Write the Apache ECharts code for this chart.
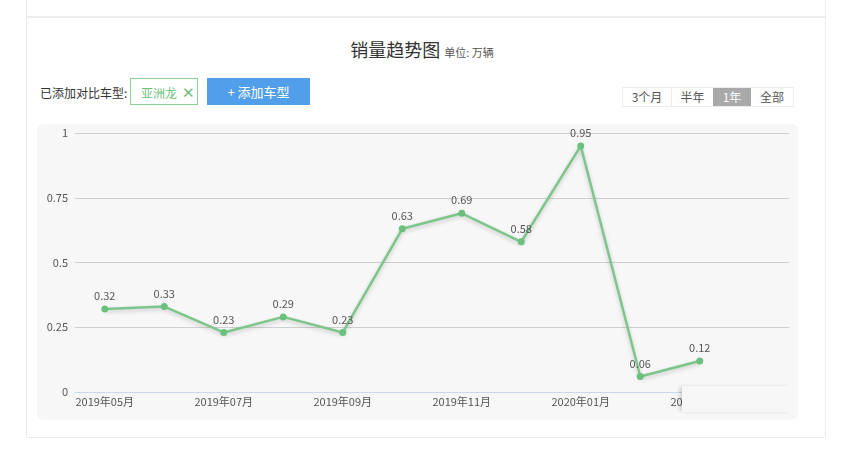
<!DOCTYPE html>
<html>
<head>
<meta charset="utf-8">
<script src="https://cdn.jsdelivr.net/npm/echarts@6/dist/echarts.min.js"></script>
<style>
	body{margin:0;background:#fff;font-family:"Noto Sans CJK SC","Noto Sans",sans-serif;width:852px;height:455px;position:relative;overflow:hidden;}
	.topcard{position:absolute;left:26px;top:-2px;width:798px;height:18px;border:1px solid #ececec;border-top:none;}
	.card{position:absolute;left:26px;top:17px;width:798px;height:419px;border:1px solid #ececec;}
	.title{position:absolute;left:-4px;top:36px;width:852px;text-align:center;color:#333;font-size:18px;}
	.title span{font-size:11px;color:#555;margin-left:4px;}
	.lbl{position:absolute;left:40px;top:84px;font-size:12px;color:#333;}
	.tag{position:absolute;left:130px;top:78px;width:66px;height:25px;border:1px solid #8ccf98;color:#6cbf7d;font-size:12px;line-height:25px;box-sizing:content-box;}
	.tag b{font-weight:normal;margin-left:10px;}
	.tag i{font-style:normal;font-size:15px;margin-left:5px;color:#6cbf7d;}
	.add{position:absolute;left:207px;top:78px;width:103px;height:27px;background:#519fea;color:#fff;font-size:13px;line-height:27px;text-align:center;}
	.rng{position:absolute;left:622px;top:87px;height:18px;border:1px solid #ececec;display:flex;font-size:12px;color:#555;}
	.rng div{line-height:18px;text-align:center;}
	.rng .on{background:#a9a9a9;color:#fff;}
	#main{position:absolute;left:37px;top:124px;width:761px;height:296px;background:#f7f7f7;border-radius:5px;}
	.fade{position:absolute;left:682px;top:386px;width:110px;height:26px;background:#f7f7f7;box-shadow:-3px 0 4px -1px rgba(0,0,0,0.18);}
</style>
</head>
<body>
<div class="topcard"></div>
<div class="card"></div>
<div class="title">销量趋势图<span>单位: 万辆</span></div>
<div class="lbl">已添加对比车型:</div>
<div class="tag"><b>亚洲龙</b><i>✕</i></div>
<div class="add">+ 添加车型</div>
<div class="rng">
	<div style="width:48px">3个月</div>
	<div style="width:41px;border-left:1px solid #ececec">半年</div>
	<div class="on" style="width:38px">1年</div>
	<div style="width:42px">全部</div>
</div>
<div id="main"></div>
<div class="fade"></div>
<script>
var months = ['2019年05月','2019年06月','2019年07月','2019年08月','2019年09月','2019年10月','2019年11月','2019年12月','2020年01月','2020年02月','2020年03月','2020年04月'];
var sales = [0.32,0.33,0.23,0.29,0.23,0.63,0.69,0.58,0.95,0.06,0.12];
var yTicks = [0,0.25,0.5,0.75,1];

var myChart = echarts.init(document.getElementById('main'));
var option = {
	animation: false,
	textStyle: {fontFamily: '"Noto Sans CJK SC","Noto Sans",sans-serif'},
	grid: {left: 38, right: 9, top: 9, bottom: 28},
	xAxis: {
		type: 'category',
		data: months,
		boundaryGap: true,
		axisLine: {lineStyle: {color: '#c9d8ea'}},
		axisTick: {
			length: 4,
			interval: function(i){ return i % 2 === 1; },
			lineStyle: {color: '#c9d8ea'}
		},
		axisLabel: {interval: 1, color: '#555', fontSize: 11, margin: 4}
	},
	yAxis: {
		type: 'value',
		min: yTicks[0],
		max: yTicks[yTicks.length - 1],
		interval: 0.25,
		axisLine: {show: false},
		axisTick: {show: false},
		axisLabel: {color: '#555', fontSize: 11, margin: 7},
		splitLine: {lineStyle: {color: '#cfcfcf'}}
	},
	series: [{
		type: 'line',
		data: sales,
		symbol: 'circle',
		symbolSize: 7,
		itemStyle: {color: '#6cc07e'},
		lineStyle: {
			color: '#7cc58b',
			width: 2.5,
			shadowColor: 'rgba(0,0,0,0.2)',
			shadowBlur: 4,
			shadowOffsetY: 2
		},
		label: {show: true, position: 'top', color: '#555', fontSize: 11, distance: 4}
	}]
};
myChart.setOption(option);
</script>
</body>
</html>
